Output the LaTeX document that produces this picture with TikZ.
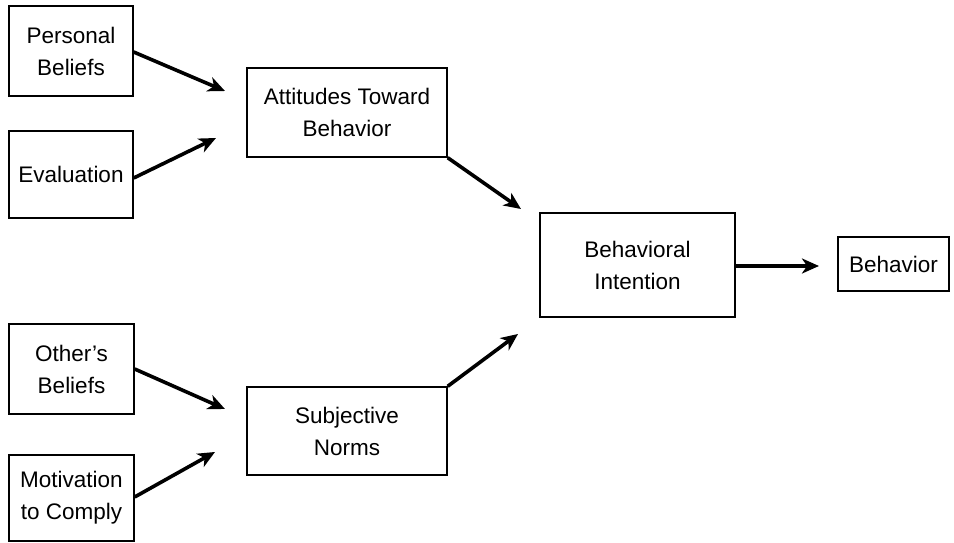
\documentclass[tikz,border=0pt]{standalone}
\usepackage{fontspec}
\setmainfont{Liberation Sans}
\usetikzlibrary{arrows.meta}
\begin{document}
\begin{tikzpicture}[x=1pt,y=-1pt,
  box/.style={draw,line width=1.4pt,inner sep=0pt,align=center,
    font=\fontsize{22.5}{32}\selectfont},
  link/.style={line width=3.6pt,-{Stealth[length=17pt,width=15pt,inset=5pt]}}]
\useasboundingbox (0,0) rectangle (954,543);
% source factors
\node[box,minimum width=124pt,minimum height=90pt] (pb) at (71,51) {Personal\\Beliefs};
\node[box,minimum width=124pt,minimum height=87pt] (ev) at (71,174.5) {Evaluation};
\node[box,minimum width=125pt,minimum height=90pt] (ob) at (71.5,369) {Other's\\Beliefs};
\node[box,minimum width=125pt,minimum height=86pt] (mc) at (71.5,498) {Motivation\\to Comply};
% intermediate constructs
\node[box,minimum width=200pt,minimum height=89pt] (att) at (347,112.5) {Attitudes Toward\\Behavior};
\node[box,minimum width=200pt,minimum height=88pt] (sn) at (347,431) {Subjective\\Norms};
% intention and outcome
\node[box,minimum width=195pt,minimum height=104pt] (bi) at (637.5,265) {Behavioral\\Intention};
\node[box,minimum width=111pt,minimum height=54pt] (be) at (893.5,264) {Behavior};
% arrow tips
\coordinate (pbT) at (225,91);
\coordinate (evT) at (216,138);
\coordinate (attT) at (521,209);
\coordinate (obT) at (225,409);
\coordinate (mcT) at (215,452);
\coordinate (snT) at (518,334);
\coordinate (biT) at (819,266);
% connectors
\draw[link] (pb.east|-0,52) -- (pbT);
\draw[link] (ev.east|-0,178) -- (evT);
\draw[link] (att.south east) -- (attT);
\draw[link] (ob.east|-0,369) -- (obT);
\draw[link] (mc.east|-0,497) -- (mcT);
\draw[link] (sn.north east) -- (snT);
\draw[link] (bi.east|-0,266) -- (biT);
\end{tikzpicture}
\end{document}
